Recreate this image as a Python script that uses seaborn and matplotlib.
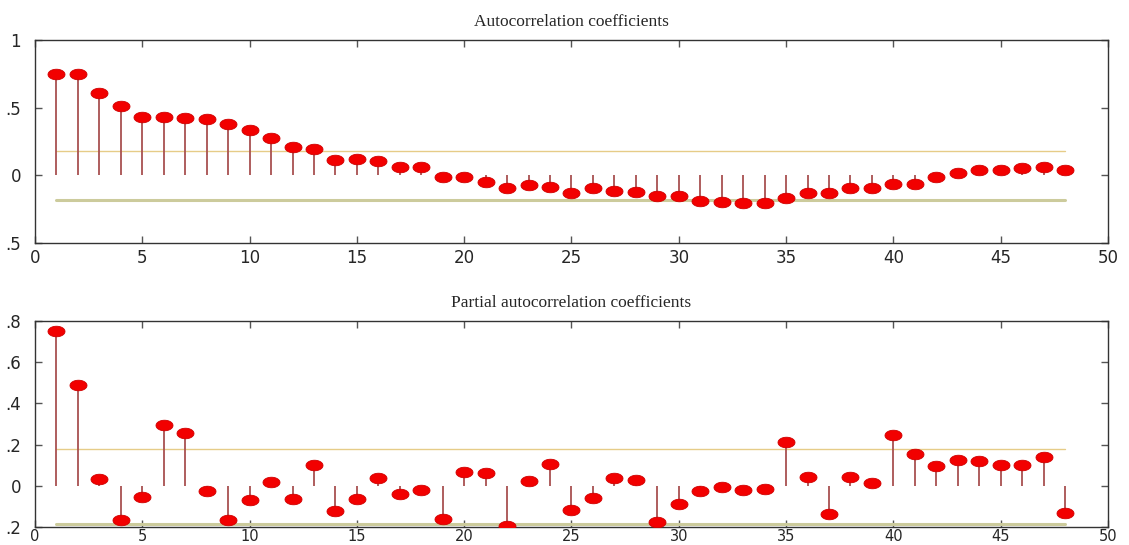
import numpy as np
import pandas as pd
import matplotlib
matplotlib.use("Agg")
import matplotlib.pyplot as plt
import seaborn as sns
from matplotlib.path import Path

lags = list(range(1, 49))
acf = [0.75, 0.75, 0.61, 0.51, 0.43, 0.435, 0.425, 0.415, 0.38, 0.335,
       0.275, 0.21, 0.195, 0.113, 0.123, 0.106, 0.064, 0.06, -0.01, -0.015,
       -0.05, -0.096, -0.072, -0.084, -0.128, -0.09, -0.113, -0.123, -0.153, -0.15,
       -0.192, -0.2, -0.207, -0.207, -0.168, -0.133, -0.128, -0.096, -0.09, -0.06,
       -0.062, -0.015, 0.017, 0.039, 0.04, 0.052, 0.064, 0.039]
pacf = [0.751, 0.487, 0.034, -0.163, -0.052, 0.297, 0.256, -0.026, -0.164, -0.069,
        0.019, -0.065, 0.1, -0.123, -0.061, 0.039, -0.037, -0.018, -0.158, 0.069,
        0.064, -0.192, 0.023, 0.105, -0.116, -0.058, 0.037, 0.031, -0.176, -0.089,
        -0.024, -0.005, -0.018, -0.013, 0.211, 0.044, -0.137, 0.042, 0.016, 0.247,
        0.155, 0.097, 0.124, 0.119, 0.102, 0.102, 0.142, -0.129]
acf_band = [0.18, -0.185]
pacf_band = [0.18, -0.185]

titles = ["Autocorrelation coefficients", "Partial autocorrelation coefficients"]
xticks = [0, 5, 10, 15, 20, 25, 30, 35, 40, 45, 50]
acf_yticks = [1, 0.5, 0, -0.5]
acf_yticklabels = ["1", ".5", "0", ".5"]
pacf_yticks = [0.8, 0.6, 0.4, 0.2, 0, -0.2]
pacf_yticklabels = [".8", ".6", ".4", ".2", "0", ".2"]

sns.set_style("white")
plt.rcParams['font.family'] = ['DejaVu Sans']

# ellipse marker
t = np.linspace(0, 2 * np.pi, 60)
ell = Path(np.column_stack([1.0 * np.cos(t), 0.62 * np.sin(t)]), closed=True)

fig = plt.figure(figsize=(11.29, 5.45), dpi=100)
ax1 = fig.add_axes([0.031, 0.554, 0.9504, 0.3725])
ax2 = fig.add_axes([0.031, 0.0325, 0.9504, 0.379])

configs = [
    (ax1, acf, acf_band, (-0.5, 1.0), acf_yticks, acf_yticklabels, titles[0], 12, 4),
    (ax2, pacf, pacf_band, (-0.2, 0.8), pacf_yticks, pacf_yticklabels, titles[1], 10.5, 1),
]

for ax, vals, band, ylim, yt, ytl, title, xfs, xpad in configs:
    df = pd.DataFrame({"lag": lags, "value": vals})
    ax.vlines(df["lag"], 0, df["value"], colors="#a85050", linewidth=1.3, zorder=2)
    band_df = pd.DataFrame({"lag": [lags[0], lags[-1]] * 2,
                            "value": [band[0], band[0], band[1], band[1]],
                            "which": ["u", "u", "l", "l"]})
    sns.lineplot(data=band_df[band_df.which == "u"], x="lag", y="value", ax=ax,
                 color="#e6cc88", linewidth=1.0, zorder=1)
    sns.lineplot(data=band_df[band_df.which == "l"], x="lag", y="value", ax=ax,
                 color="#cccb9c", linewidth=2.2, zorder=1)
    sns.scatterplot(data=df, x="lag", y="value", ax=ax, marker=ell, s=150,
                    color="#f20000", edgecolor="#d00000", linewidth=0.6, zorder=3)
    ax.set_xlim(0, 50)
    ax.set_ylim(*ylim)
    ax.set_xticks(xticks)
    ax.set_xticklabels([str(v) for v in xticks], fontsize=xfs)
    ax.set_yticks(yt)
    ax.set_yticklabels(ytl, fontsize=12)
    ax.set_xlabel("")
    ax.set_ylabel("")
    ax.tick_params(direction="in", length=5, width=1, color="#555555",
                   top=True, right=True, bottom=True, left=True)
    ax.tick_params(axis="y", pad=10)
    ax.tick_params(axis="x", pad=xpad)
    for sp in ax.spines.values():
        sp.set_visible(True)
        sp.set_color("#333333")
        sp.set_linewidth(1.0)
    ax.set_title(title, family="Liberation Serif", fontsize=12.5, pad=10)
    leg = ax.get_legend()
    if leg is not None:
        leg.remove()

fig.savefig("out.png", dpi=100, facecolor="white")
